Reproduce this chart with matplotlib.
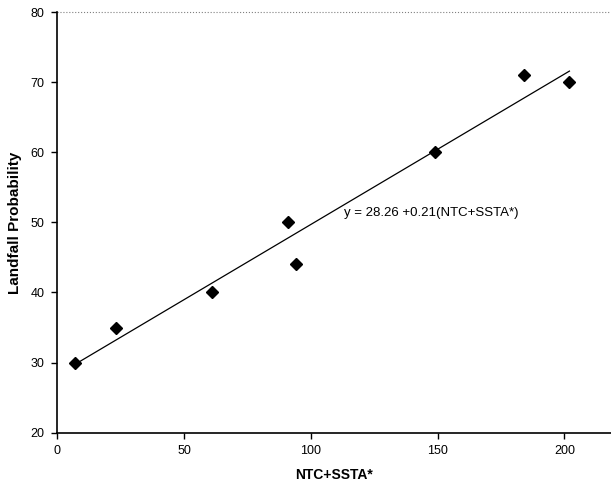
import matplotlib.pyplot as plt
import numpy as np

plt.rcParams['font.family'] = ['Liberation Sans', 'DejaVu Sans']

# values
ntc_ssta = np.array([7, 23, 61, 91, 94, 149, 184, 202])
landfall_prob = np.array([30, 35, 40, 50, 44, 60, 71, 70])
x_ticks = [0, 50, 100, 150, 200]
y_ticks = [20, 30, 40, 50, 60, 70, 80]

fig = plt.figure(figsize=(6.11, 4.84), dpi=100)
ax = fig.add_axes([0.0938, 0.106, 0.9062, 0.869])

ax.plot(ntc_ssta, landfall_prob, 'D', color='black', markersize=6.5, zorder=3)

# linear fit
slope, intercept = np.polyfit(ntc_ssta, landfall_prob, 1)
xf = np.array([ntc_ssta.min(), ntc_ssta.max()])
ax.plot(xf, intercept + slope * xf, '-', color='black', linewidth=0.9)

ax.text(113, 51.3, f'y = {intercept:.2f} +{slope:.2f}(NTC+SSTA*)', fontsize=9.5,
        va='center', ha='left')

ax.set_xlim(0, 218.4)
ax.set_ylim(20, 80)
ax.set_xticks(x_ticks)
ax.set_yticks(y_ticks)
ax.tick_params(direction='out', length=4, width=1, labelsize=9, pad=5)

for s in ['top', 'right']:
    ax.spines[s].set_visible(False)
ax.spines['left'].set_linewidth(1.2)
ax.spines['bottom'].set_linewidth(1.2)
ax.axhline(80, color='gray', linestyle=':', linewidth=0.8, clip_on=False)

ax.set_xlabel('NTC+SSTA*', fontsize=10, fontweight='bold', labelpad=8)
ax.set_ylabel('Landfall Probability', fontsize=11, fontweight='bold', labelpad=6)

fig.savefig('out.png', dpi=100)
